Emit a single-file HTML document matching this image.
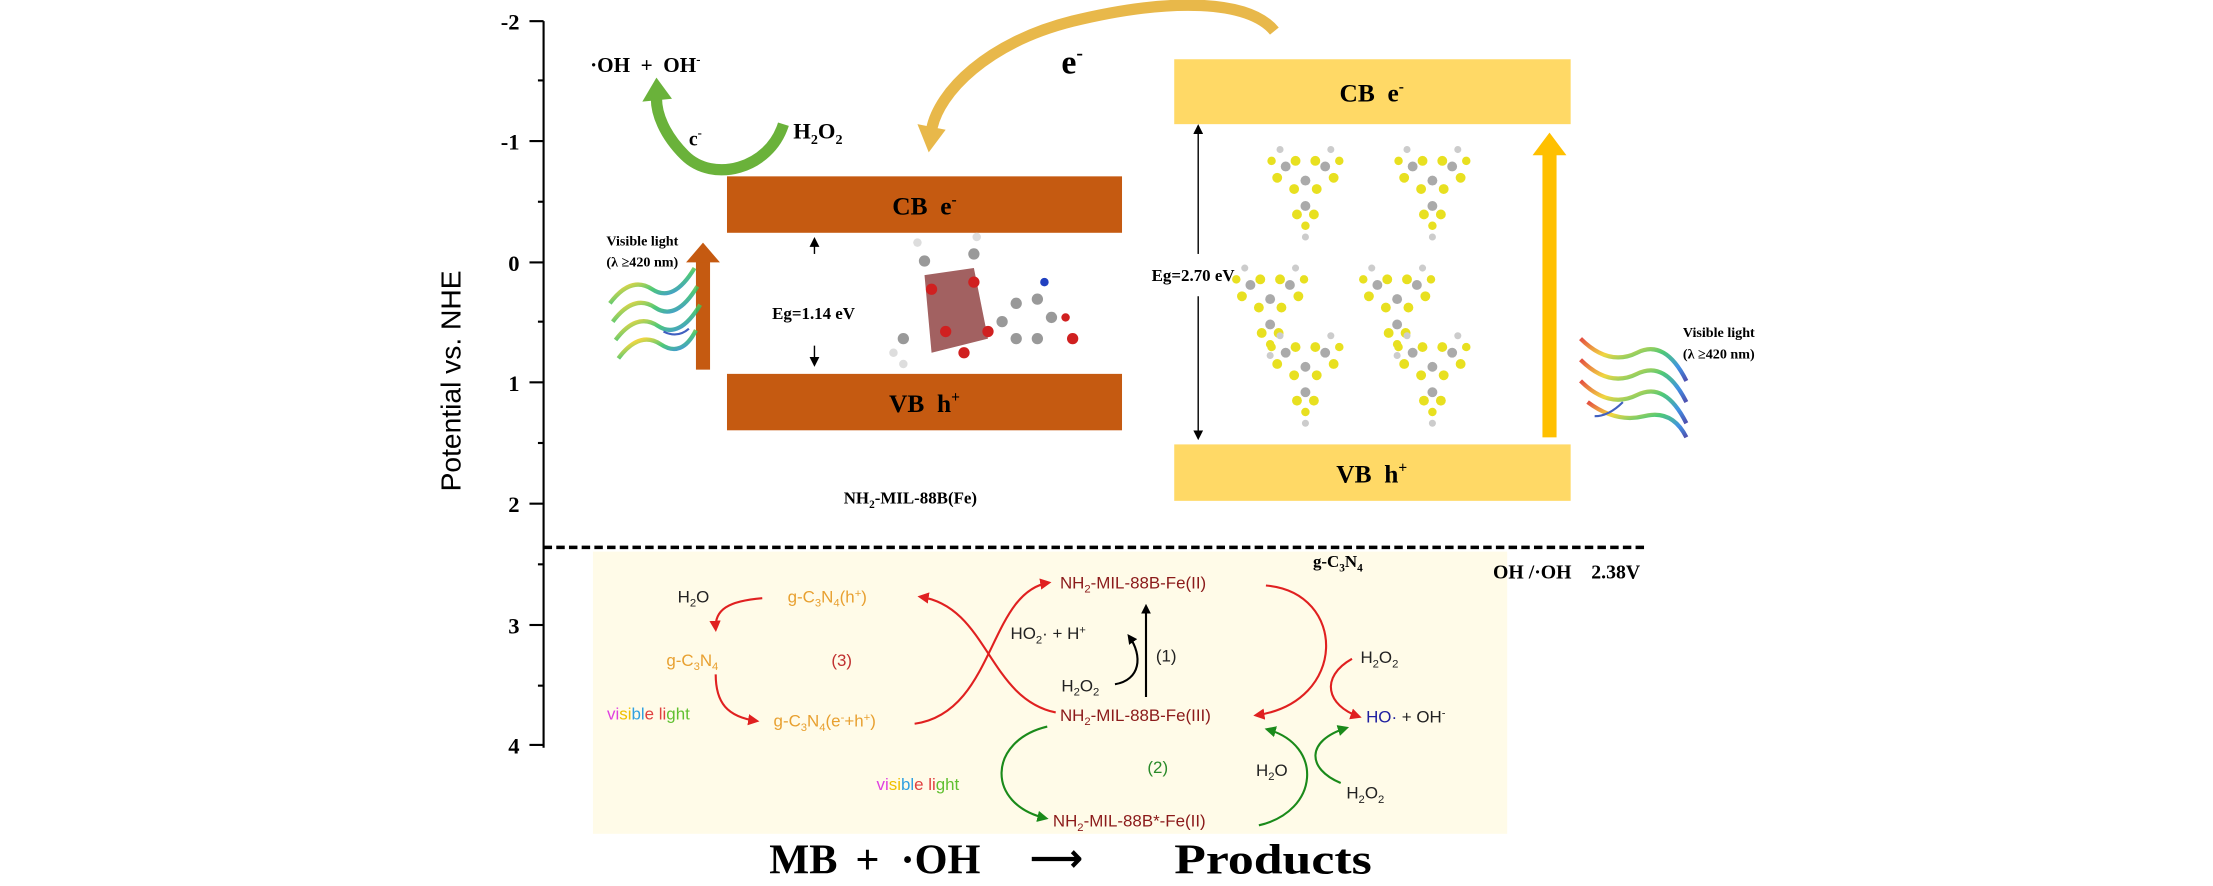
<!DOCTYPE html>
<html><head><meta charset="utf-8"><style>
html,body{margin:0;padding:0;background:#fff;}
svg{display:block}
.s{font-family:"Liberation Serif",serif;font-weight:bold}
.a{font-family:"Liberation Sans",sans-serif}
</style></head><body>
<svg width="2213" height="886" viewBox="0 0 1568 628" xmlns="http://www.w3.org/2000/svg">
<defs>
<marker id="ar" markerWidth="8" markerHeight="8" refX="6" refY="4" orient="auto" markerUnits="userSpaceOnUse"><path d="M0,0 L8,4 L0,8 z" fill="#e02020"/></marker>
<marker id="ag" markerWidth="8" markerHeight="8" refX="6" refY="4" orient="auto" markerUnits="userSpaceOnUse"><path d="M0,0 L8,4 L0,8 z" fill="#1a8a1a"/></marker>
<marker id="ak" markerWidth="7" markerHeight="7" refX="5" refY="3.5" orient="auto" markerUnits="userSpaceOnUse"><path d="M0,0 L7,3.5 L0,7 z" fill="#000"/></marker>
<linearGradient id="rb" x1="0" y1="0" x2="1" y2="1"><stop offset="0" stop-color="#e03020"/><stop offset=".3" stop-color="#f0d020"/><stop offset=".55" stop-color="#30c060"/><stop offset=".8" stop-color="#2080e0"/><stop offset="1" stop-color="#3030a0"/></linearGradient>
<g id="t">
<g fill="#aaa"><circle cx="0" cy="0" r="3.5"/><circle cx="-14" cy="-10" r="3.5"/><circle cx="14" cy="-10" r="3.5"/><circle cx="0" cy="18" r="3.5"/></g>
<g fill="#e8e020"><circle cx="-7" cy="-14" r="3.5"/><circle cx="7" cy="-14" r="3.5"/><circle cx="-8" cy="6" r="3.5"/><circle cx="8" cy="6" r="3.5"/><circle cx="-20" cy="-2" r="3.5"/><circle cx="20" cy="-2" r="3.5"/><circle cx="-6" cy="24" r="3.5"/><circle cx="6" cy="24" r="3.5"/><circle cx="-24" cy="-14" r="3"/><circle cx="24" cy="-14" r="3"/><circle cx="0" cy="32" r="3"/></g>
<g fill="#ccc"><circle cx="-18" cy="-22" r="2.5"/><circle cx="18" cy="-22" r="2.5"/><circle cx="0" cy="40" r="2.5"/></g>
</g>
</defs>
<rect x="420" y="391" width="648" height="200" fill="#fffbe8"/>
<line x1="385" y1="15" x2="385" y2="530" stroke="#000" stroke-width="1.5"/>
<g stroke="#000" stroke-width="1.5">
<line x1="375" y1="15" x2="385" y2="15"/><line x1="375" y1="100" x2="385" y2="100"/><line x1="375" y1="186" x2="385" y2="186"/><line x1="375" y1="271" x2="385" y2="271"/><line x1="375" y1="357" x2="385" y2="357"/><line x1="375" y1="443" x2="385" y2="443"/><line x1="375" y1="528" x2="385" y2="528"/>
<line x1="381" y1="57" x2="385" y2="57"/><line x1="381" y1="143" x2="385" y2="143"/><line x1="381" y1="228" x2="385" y2="228"/><line x1="381" y1="314" x2="385" y2="314"/><line x1="381" y1="400" x2="385" y2="400"/><line x1="381" y1="486" x2="385" y2="486"/>
</g>
<g class="s" font-size="16" text-anchor="end">
<text x="368" y="21">-2</text><text x="368" y="106">-1</text><text x="368" y="192">0</text><text x="368" y="277">1</text><text x="368" y="363">2</text><text x="368" y="449">3</text><text x="368" y="534">4</text></g>
<text class="a" font-size="20" transform="translate(326,270) rotate(-90)" text-anchor="middle">Potential vs. NHE</text>
<line x1="385" y1="388" x2="1165" y2="388" stroke="#000" stroke-width="2.5" stroke-dasharray="6,3"/>
<text class="s" x="1058" y="410" font-size="14">OH /·OH &#160;&#160;&#160;2.38V</text>
<rect x="515" y="125" width="280" height="40" fill="#c55a11"/>
<rect x="515" y="265" width="280" height="40" fill="#c55a11"/>
<text class="s" x="655" y="152" font-size="18" text-anchor="middle">CB &#160;e<tspan font-size="11" dy="-7">-</tspan></text>
<text class="s" x="655" y="292" font-size="18" text-anchor="middle">VB &#160;h<tspan font-size="11" dy="-7">+</tspan></text>
<text class="s" x="645" y="357" font-size="12" text-anchor="middle">NH<tspan font-size="8" dy="3">2</tspan><tspan dy="-3">-MIL-88B(Fe)</tspan></text>
<rect x="832" y="42" width="281" height="46" fill="#ffd966"/>
<rect x="832" y="315" width="281" height="40" fill="#ffd966"/>
<text class="s" x="972" y="72" font-size="18" text-anchor="middle">CB &#160;e<tspan font-size="11" dy="-7">-</tspan></text>
<text class="s" x="972" y="342" font-size="18" text-anchor="middle">VB &#160;h<tspan font-size="11" dy="-7">+</tspan></text>
<text class="s" x="948" y="402" font-size="12" text-anchor="middle">g-C<tspan font-size="8" dy="3">3</tspan><tspan dy="-3">N</tspan><tspan font-size="8" dy="3">4</tspan></text>
<line x1="577" y1="180" x2="577" y2="170" stroke="#000" marker-end="url(#ak)"/>
<line x1="577" y1="245" x2="577" y2="258" stroke="#000" marker-end="url(#ak)"/>
<text class="s" x="547" y="226" font-size="12">Eg=1.14 eV</text>
<line x1="849" y1="180" x2="849" y2="90" stroke="#000" marker-end="url(#ak)"/>
<line x1="849" y1="210" x2="849" y2="310" stroke="#000" marker-end="url(#ak)"/>
<text class="s" x="816" y="199" font-size="12">Eg=2.70 eV</text>
<rect x="493" y="185" width="10" height="77" fill="#c55a11"/><path d="M486,186 L498,172 L510,186 z" fill="#c55a11"/>
<rect x="1093" y="108" width="10" height="202" fill="#ffc000"/><path d="M1086,110 L1098,94 L1110,110 z" fill="#ffc000"/>
<text class="s" x="455" y="174" font-size="10" text-anchor="middle">Visible light</text>
<text class="s" x="455" y="189" font-size="10" text-anchor="middle">(λ ≥420 nm)</text>
<text class="s" x="1218" y="239" font-size="10" text-anchor="middle">Visible light</text>
<text class="s" x="1218" y="254" font-size="10" text-anchor="middle">(λ ≥420 nm)</text>
<g fill="none" stroke="url(#rb)" stroke-width="3" opacity=".85">
<path d="M432,215 q15,-20 30,-10 t30,-15"/><path d="M434,228 q15,-20 30,-10 t30,-15"/><path d="M436,241 q15,-20 30,-10 t30,-15"/><path d="M438,254 q15,-20 30,-10 t25,-10"/>
<path d="M1120,240 q20,20 40,10 t35,20"/><path d="M1120,255 q20,20 40,10 t35,20"/><path d="M1120,270 q20,20 40,10 t35,20"/><path d="M1125,285 q20,15 40,10 t30,15"/>
</g>
<path d="M470,235 q10,5 18,-2" stroke="#4060c0" fill="none" stroke-width="1.5"/>
<path d="M1150,285 q-10,10 -20,10" stroke="#4060c0" fill="none" stroke-width="1.5"/>
<g>
<path d="M655,195 L690,190 L700,240 L660,250 z" fill="#8b3a3a" opacity=".8"/>
<g fill="#999"><circle cx="640" cy="240" r="4"/><circle cx="655" cy="185" r="4"/><circle cx="690" cy="180" r="4"/><circle cx="720" cy="215" r="4"/><circle cx="735" cy="212" r="4"/><circle cx="745" cy="225" r="4"/><circle cx="735" cy="240" r="4"/><circle cx="720" cy="240" r="4"/><circle cx="710" cy="228" r="4"/></g>
<g fill="#d02020"><circle cx="660" cy="205" r="4"/><circle cx="690" cy="200" r="4"/><circle cx="670" cy="235" r="4"/><circle cx="700" cy="235" r="4"/><circle cx="683" cy="250" r="4"/><circle cx="760" cy="240" r="4"/><circle cx="755" cy="225" r="3"/></g>
<g fill="#ddd"><circle cx="633" cy="250" r="3"/><circle cx="650" cy="172" r="3"/><circle cx="692" cy="168" r="3"/><circle cx="640" cy="258" r="3"/></g>
<circle cx="740" cy="200" r="3" fill="#2040c0"/>
</g>
<use href="#t" x="925" y="128"/><use href="#t" x="1015" y="128"/>
<use href="#t" x="900" y="212"/><use href="#t" x="990" y="212"/>
<use href="#t" x="925" y="260"/><use href="#t" x="1015" y="260"/>
<text class="s" x="418" y="51" font-size="15">·OH &#160;+ &#160;OH<tspan font-size="9" dy="-6">-</tspan></text>
<path d="M555,88 C545,120 505,130 485,110 C470,95 465,80 465,70" stroke="#6ab23a" stroke-width="8" fill="none"/>
<path d="M455,72 L465,55 L476,70 z" fill="#6ab23a"/>
<text class="s" x="488" y="103" font-size="14">c<tspan font-size="9" dy="-6">-</tspan></text>
<text class="s" x="562" y="98" font-size="16">H<tspan font-size="10" dy="4">2</tspan><tspan dy="-4">O</tspan><tspan font-size="10" dy="4">2</tspan></text>
<path d="M903,22 C885,0 830,-2 760,15 C700,30 665,65 660,92" stroke="#e8b84a" stroke-width="8" fill="none"/>
<path d="M650,88 L658,108 L670,92 z" fill="#e8b84a"/>
<text class="s" x="752" y="52" font-size="24">e<tspan font-size="14" dy="-10">-</tspan></text>
<g class="a" font-size="12">
<text x="480" y="427" fill="#222">H<tspan font-size="8" dy="3">2</tspan><tspan dy="-3">O</tspan></text>
<text x="558" y="427" fill="#e8a030">g-C<tspan font-size="8" dy="3">3</tspan><tspan dy="-3">N</tspan><tspan font-size="8" dy="3">4</tspan><tspan dy="-3">(h</tspan><tspan font-size="8" dy="-4">+</tspan><tspan dy="4">)</tspan></text>
<text x="472" y="472" fill="#e8a030">g-C<tspan font-size="8" dy="3">3</tspan><tspan dy="-3">N</tspan><tspan font-size="8" dy="3">4</tspan></text>
<text x="589" y="472" fill="#c03030">(3)</text>
<text x="430" y="510"><tspan fill="#e040e0">vi</tspan><tspan fill="#f0c000">si</tspan><tspan fill="#30a0e0">bl</tspan><tspan fill="#e04040">e li</tspan><tspan fill="#60c030">ght</tspan></text>
<text x="548" y="515" fill="#e8a030">g-C<tspan font-size="8" dy="3">3</tspan><tspan dy="-3">N</tspan><tspan font-size="8" dy="3">4</tspan><tspan dy="-3">(e</tspan><tspan font-size="8" dy="-4">-</tspan><tspan dy="4">+h</tspan><tspan font-size="8" dy="-4">+</tspan><tspan dy="4">)</tspan></text>
<text x="751" y="417" fill="#8b1a1a">NH<tspan font-size="8" dy="3">2</tspan><tspan dy="-3">-MIL-88B-Fe(II)</tspan></text>
<text x="716" y="453" fill="#222">HO<tspan font-size="8" dy="3">2</tspan><tspan dy="-3">· + H</tspan><tspan font-size="8" dy="-4">+</tspan></text>
<text x="819" y="469" fill="#222">(1)</text>
<text x="752" y="490" fill="#222">H<tspan font-size="8" dy="3">2</tspan><tspan dy="-3">O</tspan><tspan font-size="8" dy="3">2</tspan></text>
<text x="751" y="511" fill="#8b1a1a">NH<tspan font-size="8" dy="3">2</tspan><tspan dy="-3">-MIL-88B-Fe(III)</tspan></text>
<text x="964" y="470" fill="#222">H<tspan font-size="8" dy="3">2</tspan><tspan dy="-3">O</tspan><tspan font-size="8" dy="3">2</tspan></text>
<text x="968" y="512"><tspan fill="#2020a0">HO·</tspan><tspan fill="#222"> + OH</tspan><tspan font-size="8" dy="-4" fill="#222">-</tspan></text>
<text x="813" y="548" fill="#2a8a2a">(2)</text>
<text x="890" y="550" fill="#222">H<tspan font-size="8" dy="3">2</tspan><tspan dy="-3">O</tspan></text>
<text x="954" y="566" fill="#222">H<tspan font-size="8" dy="3">2</tspan><tspan dy="-3">O</tspan><tspan font-size="8" dy="3">2</tspan></text>
<text x="621" y="560"><tspan fill="#e040e0">vi</tspan><tspan fill="#f0c000">si</tspan><tspan fill="#30a0e0">bl</tspan><tspan fill="#e04040">e li</tspan><tspan fill="#60c030">ght</tspan></text>
<text x="746" y="586" fill="#8b1a1a">NH<tspan font-size="8" dy="3">2</tspan><tspan dy="-3">-MIL-88B*-Fe(II)</tspan></text>
</g>
<g fill="none" stroke-width="1.5">
<path d="M540,424 C516,426 506,432 507,446" stroke="#e02020" marker-end="url(#ar)"/>
<path d="M507,478 C507,498 515,508 536,511" stroke="#e02020" marker-end="url(#ar)"/>
<path d="M648,513 C705,505 700,420 743,413" stroke="#e02020" marker-end="url(#ar)"/>
<path d="M748,505 C700,495 700,430 652,423" stroke="#e02020" marker-end="url(#ar)"/>
<path d="M897,415 C955,420 955,498 890,507" stroke="#e02020" marker-end="url(#ar)"/>
<path d="M958,467 C935,480 940,500 963,508" stroke="#e02020" marker-end="url(#ar)"/>
<path d="M742,515 C700,525 698,570 741,580" stroke="#1a8a1a" marker-end="url(#ag)"/>
<path d="M892,585 C935,575 938,528 898,517" stroke="#1a8a1a" marker-end="url(#ag)"/>
<path d="M950,555 C926,545 925,525 954,516" stroke="#1a8a1a" marker-end="url(#ag)"/>
</g>
<line x1="812" y1="494" x2="812" y2="430" stroke="#000" stroke-width="1.5" marker-end="url(#ak)"/>
<path d="M790,485 C808,482 810,465 800,451" stroke="#000" fill="none" stroke-width="1.5" marker-end="url(#ak)"/>
<g class="s" font-size="30">
<text x="545" y="619">MB</text>
<text x="606" y="619">+</text>
<text x="638" y="619">·OH</text>
<text x="730" y="617" font-size="26">⟶</text>
<text x="832" y="619" textLength="140" lengthAdjust="spacingAndGlyphs">Products</text>
</g>
</svg>
</body></html>
